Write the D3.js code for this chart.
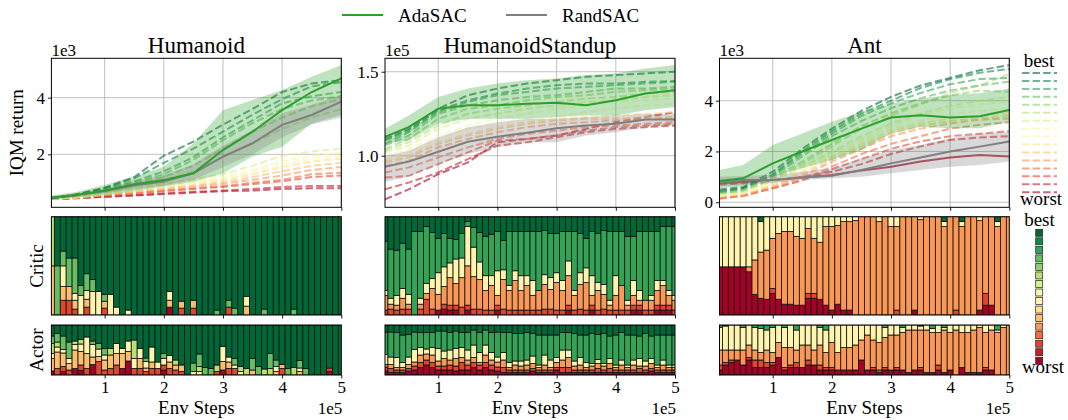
<!DOCTYPE html>
<html><head><meta charset="utf-8">
<script src="https://cdn.jsdelivr.net/npm/d3@7"></script>
<style>
body{margin:0;background:#fff}
text{font-family:"Liberation Serif","Times New Roman",serif;fill:#000}
</style>
</head><body>
<svg id="c" width="1068" height="420"></svg>
<script>
// ---------------- DATA ----------------
const steps = [0.1,0.5,1,1.5,2,2.5,3,3.5,4,4.5,5];           // x positions (1e5 env steps) of curve samples
const barCenters = [0.1,0.2,0.3,0.4,0.5,0.6,0.7,0.8,0.9,1.0,1.1,1.2,1.3,1.4,1.5,1.6,1.7,1.8,1.9,2.0,
  2.1,2.2,2.3,2.4,2.5,2.6,2.7,2.8,2.9,3.0,3.1,3.2,3.3,3.4,3.5,3.6,3.7,3.8,3.9,4.0,
  4.1,4.2,4.3,4.4,4.5,4.6,4.7,4.8,4.9,5.0];
const xTicks = [1,2,3,4,5];
const envNames = ["Humanoid","HumanoidStandup","Ant"];
const offsets = ["1e3","1e5","1e3"];
const yTicksHum = [2,4], yTicksStd = [1.0,1.5], yTicksAnt = [0,2,4];
const legendNames = ["AdaSAC","RandSAC"];

// Humanoid (x1e3)
const humAda    = [0.47,0.56,0.72,0.94,1.09,1.33,2.15,2.80,3.56,4.20,4.68];
const humAdaHi  = [0.55,0.66,0.92,1.22,1.56,2.39,3.56,3.92,4.27,4.74,5.15];
const humAdaLo  = [0.40,0.47,0.55,0.70,0.86,1.03,1.33,1.92,2.27,3.09,3.40];
const humRand   = [0.47,0.55,0.70,0.90,1.04,1.33,1.92,2.39,3.04,3.39,3.86];
const humRandHi = [0.52,0.62,0.80,1.05,1.25,1.65,2.30,2.85,3.45,3.75,4.10];
const humRandLo = [0.42,0.50,0.62,0.78,0.90,1.10,1.55,2.00,2.60,3.05,3.30];
const humDashed = [ // rank 0 (worst) .. 15 (best)
  [.42,.45,.50,.55,.60,.65,.70,.72,.78,.80,.80],
  [.42,.45,.50,.55,.62,.68,.72,.78,.85,.88,.88],
  [.42,.46,.55,.62,.70,.78,.85,.95,1.05,1.20,1.25],
  [.42,.46,.55,.63,.72,.80,.88,1.00,1.10,1.30,1.35],
  [.43,.47,.57,.66,.76,.86,.96,1.10,1.25,1.45,1.55],
  [.43,.47,.58,.68,.80,.90,1.02,1.20,1.40,1.60,1.70],
  [.43,.48,.60,.72,.85,.97,1.10,1.30,1.55,1.75,1.85],
  [.43,.48,.60,.73,.88,1.00,1.15,1.38,1.65,1.85,1.95],
  [.43,.48,.62,.76,.92,1.05,1.22,1.45,1.75,1.95,2.05],
  [.44,.50,.64,.80,.96,1.12,1.30,1.60,1.95,2.10,2.20],
  [.44,.52,.70,.90,1.10,1.40,1.90,2.40,2.90,3.30,3.60],
  [.44,.54,.72,.95,1.20,1.60,2.20,2.80,3.30,3.70,3.95],
  [.45,.55,.75,1.00,1.30,1.80,2.50,3.10,3.60,3.90,4.05],
  [.45,.56,.78,1.05,1.40,1.90,2.60,3.20,3.80,4.05,4.20],
  [.45,.57,.80,1.15,1.70,2.20,2.80,3.40,3.95,4.40,4.55],
  [.46,.58,.82,1.20,1.95,2.45,3.05,3.60,4.20,4.50,4.62]
];

// HumanoidStandup (x1e5)
const stdAda    = [1.113,1.17,1.28,1.30,1.30,1.31,1.315,1.30,1.33,1.37,1.39];
const stdAdaHi  = [1.16,1.24,1.35,1.40,1.43,1.45,1.46,1.48,1.49,1.52,1.54];
const stdAdaLo  = [1.07,1.09,1.19,1.22,1.22,1.22,1.23,1.24,1.24,1.27,1.29];
const stdRand   = [0.935,0.965,1.024,1.083,1.113,1.137,1.163,1.18,1.19,1.216,1.216];
const stdRandHi = [1.00,1.03,1.11,1.17,1.20,1.22,1.22,1.23,1.24,1.25,1.25];
const stdRandLo = [0.845,0.875,0.95,1.01,1.05,1.08,1.08,1.12,1.14,1.17,1.18];
const stdDashed = [
  [0.74,0.80,0.89,0.96,1.08,1.10,1.12,1.16,1.20,1.23,1.26],
  [0.80,0.84,0.90,0.98,1.06,1.08,1.11,1.14,1.16,1.17,1.18],
  [0.87,0.88,0.95,1.02,1.09,1.10,1.12,1.15,1.17,1.18,1.19],
  [0.90,0.93,0.99,1.05,1.10,1.13,1.15,1.17,1.18,1.19,1.20],
  [0.94,0.97,1.05,1.10,1.14,1.17,1.19,1.20,1.21,1.22,1.22],
  [0.96,0.99,1.07,1.12,1.16,1.19,1.21,1.22,1.22,1.23,1.23],
  [0.97,1.00,1.08,1.13,1.17,1.20,1.22,1.23,1.24,1.25,1.26],
  [0.98,1.02,1.10,1.16,1.19,1.21,1.23,1.26,1.28,1.30,1.31],
  [1.00,1.04,1.12,1.18,1.22,1.25,1.28,1.30,1.32,1.33,1.34],
  [1.02,1.06,1.16,1.22,1.25,1.28,1.30,1.32,1.33,1.35,1.36],
  [1.03,1.08,1.18,1.25,1.28,1.30,1.32,1.34,1.35,1.37,1.38],
  [1.04,1.10,1.22,1.28,1.30,1.33,1.35,1.36,1.38,1.39,1.40],
  [1.06,1.12,1.25,1.30,1.33,1.35,1.36,1.38,1.40,1.40,1.41],
  [1.07,1.14,1.26,1.32,1.36,1.38,1.40,1.41,1.42,1.43,1.44],
  [1.09,1.15,1.27,1.33,1.37,1.40,1.42,1.43,1.43,1.44,1.445],
  [1.10,1.16,1.28,1.36,1.40,1.43,1.45,1.47,1.48,1.49,1.50]
];

// Ant (x1e3)
const antAda    = [0.84,0.94,1.53,2.00,2.45,2.90,3.34,3.43,3.34,3.39,3.63];
const antAdaHi  = [1.27,1.47,2.25,2.71,3.17,3.56,3.89,4.09,4.22,4.29,4.48];
const antAdaLo  = [0.55,0.62,1.01,1.34,1.66,2.06,2.71,2.97,2.91,2.91,3.17];
const antRand   = [0.77,0.88,0.88,0.97,1.04,1.27,1.53,1.76,2.00,2.19,2.39];
const antRandHi = [1.00,1.03,1.07,1.20,1.34,1.73,2.06,2.25,2.52,2.71,2.78];
const antRandLo = [0.62,0.68,0.75,0.88,0.94,1.00,1.14,1.27,1.40,1.47,1.60];
const antDashed = [
  [0.75,0.80,0.88,0.97,1.07,1.25,1.40,1.60,1.76,1.86,1.80],
  [0.70,0.75,0.85,1.00,1.20,1.50,1.90,2.20,2.45,2.55,2.60],
  [0.15,0.25,0.55,0.85,1.30,1.70,2.10,2.40,2.60,2.70,2.80],
  [0.15,0.25,0.55,0.90,1.40,1.90,2.30,2.60,2.90,3.05,3.15],
  [0.20,0.30,0.60,1.00,1.60,2.10,2.60,2.90,3.10,3.25,3.30],
  [0.20,0.30,0.65,1.10,1.70,2.20,2.70,3.00,3.20,3.30,3.40],
  [0.25,0.35,0.70,1.20,1.80,2.30,2.80,3.10,3.30,3.40,3.50],
  [0.25,0.35,0.75,1.30,1.90,2.40,2.90,3.20,3.45,3.60,3.70],
  [0.30,0.40,0.80,1.35,1.95,2.50,3.00,3.40,3.70,3.85,3.95],
  [0.30,0.40,0.85,1.40,2.00,2.60,3.10,3.50,3.80,4.00,4.15],
  [0.35,0.45,0.90,1.50,2.20,2.90,3.40,3.85,4.30,4.60,5.05],
  [0.35,0.45,0.95,1.60,2.30,3.00,3.50,3.90,4.20,4.40,4.35],
  [0.40,0.50,1.00,1.80,2.60,3.20,3.70,4.10,4.40,4.60,4.75],
  [0.40,0.55,1.05,1.90,2.70,3.40,3.90,4.30,4.65,4.85,4.90],
  [0.45,0.55,1.10,2.00,2.80,3.50,4.00,4.50,4.85,5.10,5.25],
  [0.50,0.60,1.20,2.10,2.90,3.60,4.15,4.60,4.90,5.20,5.40]
];

// Selection shares per bar, "rank:percent" from the bottom; last rank fills the rest.
const humCritic = ["5:50 10","12:50 15","2:15 5:14 7:21 12:15 15","2:15 5:14 12:29 15","2:6 5:9 7:7 12:36 15",
  "7:20 12:10 15","2:8 5:8 7:9 12:17 15","7:24 12:12 15","7:24 15","2:7 5:7 12:7 15",
  "7:21 15","7:8 15","15","7:5 15","15","15","15","15","15","15",
  "0:8 5:7 7:9 15","15","2:7 5:7 15","15","2:7 5:8 15","15","15","15","12:5 15","15",
  "2:8 12:7 15","12:7 15","15","5:9 7:10 15","15","15","12:6 15","15","15","15",
  "15","12:6 15","15","15","15","15","15","15","15","15"];
const humActor = ["0:8 5:25 7:10 10:20 12:15 15","2:13 5:33 7:10 10:10 12:17 15","0:7 2:10 5:27 7:7 12:27 15","2:10 5:13 7:10 12:33 15","0:13 5:37 7:11 10:7 15",
  "0:9 2:11 5:27 7:15 10:9 15","2:13 5:30 7:33 15","0:21 5:15 7:25 12:7 15","2:27 5:10 7:15 12:11 15","2:10 5:20 7:10 12:13 15",
  "2:13 5:27 10:13 15","2:20 5:23 7:20 15","0:13 5:30 7:10 15","0:28 5:19 7:21 15","2:13 7:20 10:37 15",
  "2:13 5:20 7:20 15","2:7 5:7 7:13 12:7 15","2:13 5:13 7:30 15","2:13 7:13 15","0:10 2:10 7:13 12:10 15",
  "2:13 5:13 7:13 15","2:10 5:10 10:10 15","2:7 5:13 15","15","7:7 12:17 15",
  "7:7 10:10 12:25 15","12:15 15","12:13 15","2:7 10:13 15","0:10 5:17 7:30 15",
  "2:13 5:13 7:10 15","2:13 7:7 12:13 15","7:7 10:10 15","10:13 15","5:10 12:23 15",
  "12:17 15","10:12 15","10:13 12:30 15","5:7 7:10 12:13 15","2:13 5:8 15",
  "12:13 15","10:15 15","5:7 7:7 12:15 15","12:13 15","15","15","15","0:7 2:7 15","15","15"];
const stdCritic = ["2:5 4:15 7:5 13:50 15","2:6 4:5 7:6 13:50 15","2:5 4:5 7:10 13:46 15","2:6 4:11 7:10 13:46 15","2:6 4:5 7:10 13:46 15",
  "13:85 15","2:6 4:5 7:6 13:68 15","2:16 4:6 7:10 13:58 15","2:6 4:21 7:10 13:47 15","0:5 4:16 7:22 13:35 15",
  "0:6 2:5 4:18 7:20 13:34 15","0:5 2:5 4:28 7:15 13:25 15","0:5 2:5 4:22 7:25 13:20 15","2:8 4:30 7:20 13:25 15","0:5 2:5 4:40 7:40 13:5 15",
  "2:6 4:33 7:30 13:20 15","2:6 4:30 7:18 13:30 15","2:5 4:20 7:15 13:40 15","2:5 4:25 7:10 13:42 15","0:5 2:5 4:10 7:25 13:40 15",
  "2:6 4:30 7:10 13:30 15","2:5 4:20 7:5 13:55 15","2:5 4:30 7:10 13:40 15","2:5 4:20 7:15 13:45 15","2:5 4:25 7:10 13:45 15",
  "2:5 4:15 7:15 13:50 15","2:5 4:20 13:60 15","2:6 4:25 7:10 13:45 15","2:6 4:20 7:12 13:45 15","2:5 4:28 7:10 13:40 15",
  "2:5 4:20 7:10 13:50 15","0:5 2:5 4:30 7:15 13:30 15","2:5 4:15 7:5 13:60 15","2:6 4:25 7:12 13:40 15","2:5 4:28 7:15 13:30 15",
  "0:5 2:5 4:10 7:20 13:45 15","2:5 4:20 7:8 13:50 15","2:6 4:15 7:10 13:55 15","2:5 4:5 7:5 13:70 15","2:5 4:15 7:20 13:45 15",
  "2:5 4:25 13:55 15","2:5 4:5 7:5 13:65 15","0:5 2:5 4:10 7:15 13:45 15","0:5 2:5 4:5 7:10 13:60 15","2:5 4:10 13:70 15",
  "2:5 4:10 7:5 13:65 15","0:5 2:5 4:15 7:10 13:50 15","0:5 2:5 4:20 7:5 13:55 15","0:5 2:5 4:10 7:5 13:65 15","2:5 4:10 7:5 13:70 15"];
const stdActor = ["0:8 2:8 4:5 7:20 13:45 15","0:5 2:8 4:8 7:15 13:50 15","0:5 2:5 4:5 7:20 13:50 15","0:5 2:5 4:5 7:10 13:55 15","0:8 2:5 4:8 7:15 13:45 15",
  "0:10 2:8 4:8 7:25 13:35 15","0:15 2:10 4:15 7:15 13:30 15","0:20 2:10 4:12 7:10 13:33 15","0:15 2:10 4:15 7:15 13:30 15","0:10 2:8 4:10 7:25 13:35 15",
  "0:10 2:8 4:15 7:15 13:40 15","0:10 2:10 4:10 7:20 13:35 15","0:8 2:10 4:15 7:20 13:35 15","0:10 2:15 4:10 7:20 13:30 15","0:10 2:10 4:10 7:20 13:35 15",
  "0:15 2:10 4:10 7:25 13:30 15","0:10 2:10 4:5 7:20 13:40 15","0:15 2:10 4:15 7:20 13:30 15","0:10 2:10 4:10 7:15 13:40 15","0:8 2:8 4:10 7:10 13:50 15",
  "0:5 2:10 4:15 7:15 13:40 15","0:5 2:5 4:5 7:10 13:60 15","0:5 2:5 4:10 7:8 13:55 15","0:5 2:5 4:8 7:10 13:55 15","0:5 2:5 4:10 7:10 13:55 15",
  "0:8 2:5 4:10 7:15 13:45 15","0:5 2:5 4:5 7:5 13:60 15","0:5 2:5 4:10 7:20 13:40 15","0:5 2:5 4:5 7:15 13:50 15","0:10 2:5 4:10 7:10 13:45 15",
  "0:5 2:10 4:15 7:20 13:35 15","0:5 2:10 4:20 7:15 13:35 15","0:5 2:5 4:8 7:10 13:55 15","0:5 2:5 4:10 7:15 13:45 15","0:5 2:5 4:5 7:10 13:55 15",
  "0:5 2:5 4:8 7:5 13:60 15","0:5 2:8 4:10 7:8 13:50 15","0:5 2:5 4:8 7:5 13:60 15","0:5 2:8 4:10 7:10 13:45 15","0:5 2:5 4:5 7:5 13:60 15",
  "0:5 2:5 4:10 7:10 13:55 15","0:5 2:5 4:5 7:5 13:60 15","0:5 2:5 4:10 7:10 13:50 15","0:5 2:8 4:5 7:15 13:45 15","0:5 2:5 4:8 7:10 13:55 15",
  "0:8 2:5 4:10 7:10 13:45 15","0:5 2:5 4:5 7:5 13:60 15","0:5 2:5 4:10 7:10 13:50 15","0:5 2:5 4:5 7:5 13:60 15","0:5 2:5 4:5 7:5 13:60 15"];
const antCritic = ["0:49 7","0:49 7","0:49 7","0:49 7","0:49 7","0:44 4:5 7","0:21 4:35 7","0:17 4:47 7:31 15","0:16 4:50 7","0:22 2:5 4:51 7",
  "0:16 4:67 7","0:11 4:74 7","0:11 4:74 7","0:10 4:70 7","0:10 4:68 7","0:17 2:5 4:66 7","0:17 2:5 4:56 7","0:16 4:58 7","0:10 4:80 7","0:5 4:85 7",
  "0:11 4:80 7","0:5 4:90 7","0:5 4:90 7","4:96 7","4","4","4","4:95 7","4","4:90 7",
  "2:5 4:85 7","4","4","0:5 4","4:97 7","4","4","4","4:90 7:5 15","4",
  "2:5 4","4:90 7:5 15","4","4","0:5 4:91 7","0:10 2:12 4","0:10 4","4:90 7:5 15","4","4"];
const antActor = ["0:10 2:10 4:30 7:45 13","0:20 2:5 4:25 7:48 13","0:25 2:5 4:20 7","0:30 4:20 7","0:20 4:30 7:45 13",
  "0:30 2:5 4:25 7","0:15 2:15 4:20 7:45 13","0:15 2:15 4:15 7:48 13","0:15 2:10 4:25 7:40 13","0:20 2:5 4:20 7:50 13",
  "0:35 4:30 7","0:10 2:5 4:40 7:40 13","0:15 2:5 4:35 7","0:15 2:10 4:25 7:40 13","0:15 4:45 7",
  "0:20 2:10 4:30 7","0:20 4:30 7","0:10 2:10 4:40 7:35 13","0:10 2:5 4:30 7:45 13","0:10 2:5 4:50 7",
  "0:10 4:35 7","0:10 4:45 7","0:10 4:45 7","0:10 4:50 7","0:30 4:40 7",
  "0:10 4:70 7","0:10 2:5 4:55 7","0:5 2:5 4:55 7","0:10 2:5 4:60 7:20 13","0:10 4:70 7",
  "0:10 2:5 4:65 7","0:10 4:75 7:10 13","0:5 4:85 7","0:10 4:80 7","0:10 2:5 4:75 7:8 13",
  "0:5 4:85 7","0:5 4:80 7:8 13","0:10 2:10 4:65 7","0:5 4:85 7:5 13","0:10 4:75 7",
  "4:90 7","0:15 4:70 7","0:5 4:80 7","0:5 4:85 7","0:5 4:90 7",
  "0:10 2:5 4:70 7","0:10 4:80 7","4:85 7:5 13","4:95 7","4"];

const rdylgnAnchors = ["#a50026","#d73027","#f46d43","#fdae61","#fee08b","#ffffbf","#d9ef8b","#a6d96a","#66bd63","#1a9850","#006837"];

// ---------------- DRAW ----------------
const svg = d3.select("#c");
const cmap = d3.piecewise(d3.interpolateRgb, rdylgnAnchors);
const rankColor = r => cmap(r / 15);
const ranks = d3.range(16);

const TOP = [207.3, 58.3], CRIT = [315, 216.7], ACT = [375, 325];
const panels = [
  {left:51.4, right:341.3, yDomain:[0.13,5.39], yTicks:yTicksHum, fmt:d3.format("d"),
   dashed:humDashed, ada:humAda, adaHi:humAdaHi, adaLo:humAdaLo, rand:humRand, randHi:humRandHi, randLo:humRandLo,
   critic:humCritic, actor:humActor, solidWorst:false},
  {left:385, right:675, yDomain:[0.693,1.58], yTicks:yTicksStd, fmt:d3.format(".1f"),
   dashed:stdDashed, ada:stdAda, adaHi:stdAdaHi, adaLo:stdAdaLo, rand:stdRand, randHi:stdRandHi, randLo:stdRandLo,
   critic:stdCritic, actor:stdActor, solidWorst:false},
  {left:719.5, right:1009.3, yDomain:[-0.2,5.67], yTicks:yTicksAnt, fmt:d3.format("d"),
   dashed:antDashed, ada:antAda, adaHi:antAdaHi, adaLo:antAdaLo, rand:antRand, randHi:antRandHi, randLo:antRandLo,
   critic:antCritic, actor:antActor, solidWorst:true}
];

function parseBar(s){
  let acc = 0; const segs = [];
  s.trim().split(/\s+/).forEach(p => {
    const [r, v] = p.split(":");
    const val = v === undefined ? 100 - acc : +v;
    segs.push({r:+r, y0:acc, y1:acc + val}); acc += val;
  });
  return segs;
}

function styleAxis(g, size){
  g.select(".domain").remove();
  g.selectAll(".tick line").attr("stroke","#000").attr("stroke-width",0.9);
  g.selectAll("text").attr("font-family","Liberation Serif, Times New Roman, serif").attr("font-size",size).attr("fill","#000");
}

const defs = svg.append("defs");

panels.forEach((p, pi) => {
  const x = d3.scaleLinear().domain([0.1, 5]).range([p.left, p.right]);
  const y = d3.scaleLinear().domain(p.yDomain).range(TOP);
  const w = p.right - p.left;

  [["t",TOP],["c",CRIT],["a",ACT]].forEach(([k, r]) => {
    defs.append("clipPath").attr("id", "cl"+k+pi).append("rect")
      .attr("x", p.left).attr("y", r[1]).attr("width", w).attr("height", r[0]-r[1]);
  });

  // ---- top panel ----
  const gt = svg.append("g");
  const grid = gt.append("g");
  grid.selectAll(".gx").data(xTicks).join("line")
    .attr("x1", d => x(d)).attr("x2", d => x(d)).attr("y1", TOP[1]).attr("y2", TOP[0])
    .attr("stroke","#b0b0b0").attr("stroke-width",0.8);
  grid.selectAll(".gy").data(p.yTicks).join("line")
    .attr("x1", p.left).attr("x2", p.right).attr("y1", d => y(d)).attr("y2", d => y(d))
    .attr("stroke","#b0b0b0").attr("stroke-width",0.8);

  const plot = gt.append("g").attr("clip-path", `url(#clt${pi})`);
  const line = d3.line().x((d,i) => x(steps[i])).y(d => y(d));
  const area = (hi, lo) => d3.area().x((d,i) => x(steps[i])).y0((d,i) => y(lo[i])).y1((d,i) => y(hi[i]))(hi);

  p.dashed.forEach((vals, r) => {
    const solid = p.solidWorst && r === 0;
    plot.append("path").attr("d", line(vals)).attr("fill","none")
      .attr("stroke", rankColor(r)).attr("stroke-opacity", solid ? 0.75 : 0.6)
      .attr("stroke-width", 2).attr("stroke-dasharray", solid ? null : "7.4,3.2");
  });
  plot.append("path").attr("d", area(p.adaHi, p.adaLo)).attr("fill","#2ca02c").attr("fill-opacity",0.3);
  plot.append("path").attr("d", area(p.randHi, p.randLo)).attr("fill","#7f7f7f").attr("fill-opacity",0.3);
  plot.append("path").attr("d", line(p.rand)).attr("fill","none").attr("stroke","#7f7f7f").attr("stroke-width",2);
  plot.append("path").attr("d", line(p.ada)).attr("fill","none").attr("stroke","#2ca02c").attr("stroke-width",2);

  gt.append("rect").attr("x",p.left).attr("y",TOP[1]).attr("width",w).attr("height",TOP[0]-TOP[1])
    .attr("fill","none").attr("stroke","#000").attr("stroke-width",1);
  const ya = gt.append("g").attr("transform",`translate(${p.left},0)`)
    .call(d3.axisLeft(y).tickValues(p.yTicks).tickFormat(p.fmt).tickSize(3.5).tickPadding(3));
  styleAxis(ya, 17);
  const xa = gt.append("g").attr("transform",`translate(0,${TOP[0]})`)
    .call(d3.axisBottom(x).tickValues(xTicks).tickFormat("").tickSize(3.5));
  styleAxis(xa, 17);
  gt.append("text").attr("x", p.left).attr("y", 56).attr("font-size",17).text(offsets[pi]);
  gt.append("text").attr("x", (p.left+p.right)/2).attr("y", 53).attr("text-anchor","middle")
    .attr("font-size",23).text(envNames[pi]);

  // ---- bar panels ----
  [[p.critic, CRIT, "c"], [p.actor, ACT, "a"]].forEach(([bars, R, k]) => {
    const yb = d3.scaleLinear().domain([0,100]).range(R);
    const gb = svg.append("g");
    const inner = gb.append("g").attr("clip-path", `url(#cl${k}${pi})`);
    bars.forEach((s, i) => {
      const c = barCenters[i];
      const segs = parseBar(s);
      inner.selectAll(null).data(segs).join("rect")
        .attr("x", x(c - 0.05)).attr("width", x(c + 0.05) - x(c - 0.05))
        .attr("y", d => yb(d.y1)).attr("height", d => yb(d.y0) - yb(d.y1))
        .attr("fill", d => rankColor(d.r)).attr("stroke","#111").attr("stroke-width",0.8);
    });
    gb.append("rect").attr("x",p.left).attr("y",R[1]).attr("width",w).attr("height",R[0]-R[1])
      .attr("fill","none").attr("stroke","#000").attr("stroke-width",1);
    const ax = gb.append("g").attr("transform",`translate(0,${R[0]})`)
      .call(d3.axisBottom(x).tickValues(xTicks).tickFormat(k === "a" ? d3.format("d") : "").tickSize(3.5).tickPadding(2.5));
    styleAxis(ax, 17);
  });

  svg.append("text").attr("x",(p.left+p.right)/2).attr("y",414).attr("text-anchor","middle")
    .attr("font-size",19).text("Env Steps");
  svg.append("text").attr("x",p.right + 1).attr("y",414).attr("text-anchor","end")
    .attr("font-size",17).text("1e5");
});

// y labels
svg.append("text").attr("transform","translate(23,132.8) rotate(-90)").attr("text-anchor","middle").attr("font-size",19).text("IQM return");
svg.append("text").attr("transform","translate(43,266) rotate(-90)").attr("text-anchor","middle").attr("font-size",19).text("Critic");
svg.append("text").attr("transform","translate(43,350) rotate(-90)").attr("text-anchor","middle").attr("font-size",19).text("Actor");

// top legend
const lg = svg.append("g");
[[342, 398, "#2ca02c"], [506, 562, "#7f7f7f"]].forEach(([lx, tx, col], i) => {
  lg.append("line").attr("x1", lx).attr("x2", lx + 41).attr("y1", 15).attr("y2", 15).attr("stroke", col).attr("stroke-width", 2);
  lg.append("text").attr("x", tx).attr("y", 21.5).attr("font-size", 19).text(legendNames[i]);
});

// rank legends (right side)
const rl = svg.append("g");
rl.append("text").attr("x",1039).attr("y",67).attr("text-anchor","middle").attr("font-size",19).text("best");
rl.append("text").attr("x",1041).attr("y",205).attr("text-anchor","middle").attr("font-size",19).text("worst");
rl.selectAll(".ld").data(ranks).join("line")
  .attr("x1",1022).attr("x2",1057)
  .attr("y1", d => 73 + (15 - d) * 7.95).attr("y2", d => 73 + (15 - d) * 7.95)
  .attr("stroke", d => rankColor(d)).attr("stroke-opacity",0.6).attr("stroke-width",2).attr("stroke-dasharray","7.4,3.2");
rl.append("text").attr("x",1039.5).attr("y",226).attr("text-anchor","middle").attr("font-size",19).text("best");
rl.append("text").attr("x",1043).attr("y",373).attr("text-anchor","middle").attr("font-size",19).text("worst");
rl.selectAll(".sq").data(ranks).join("rect")
  .attr("x",1035.7).attr("width",7).attr("height",7)
  .attr("y", d => 229.3 + (15 - d) * 8.53)
  .attr("fill", d => rankColor(d)).attr("stroke","#222").attr("stroke-width",0.7);
</script>
</body></html>
